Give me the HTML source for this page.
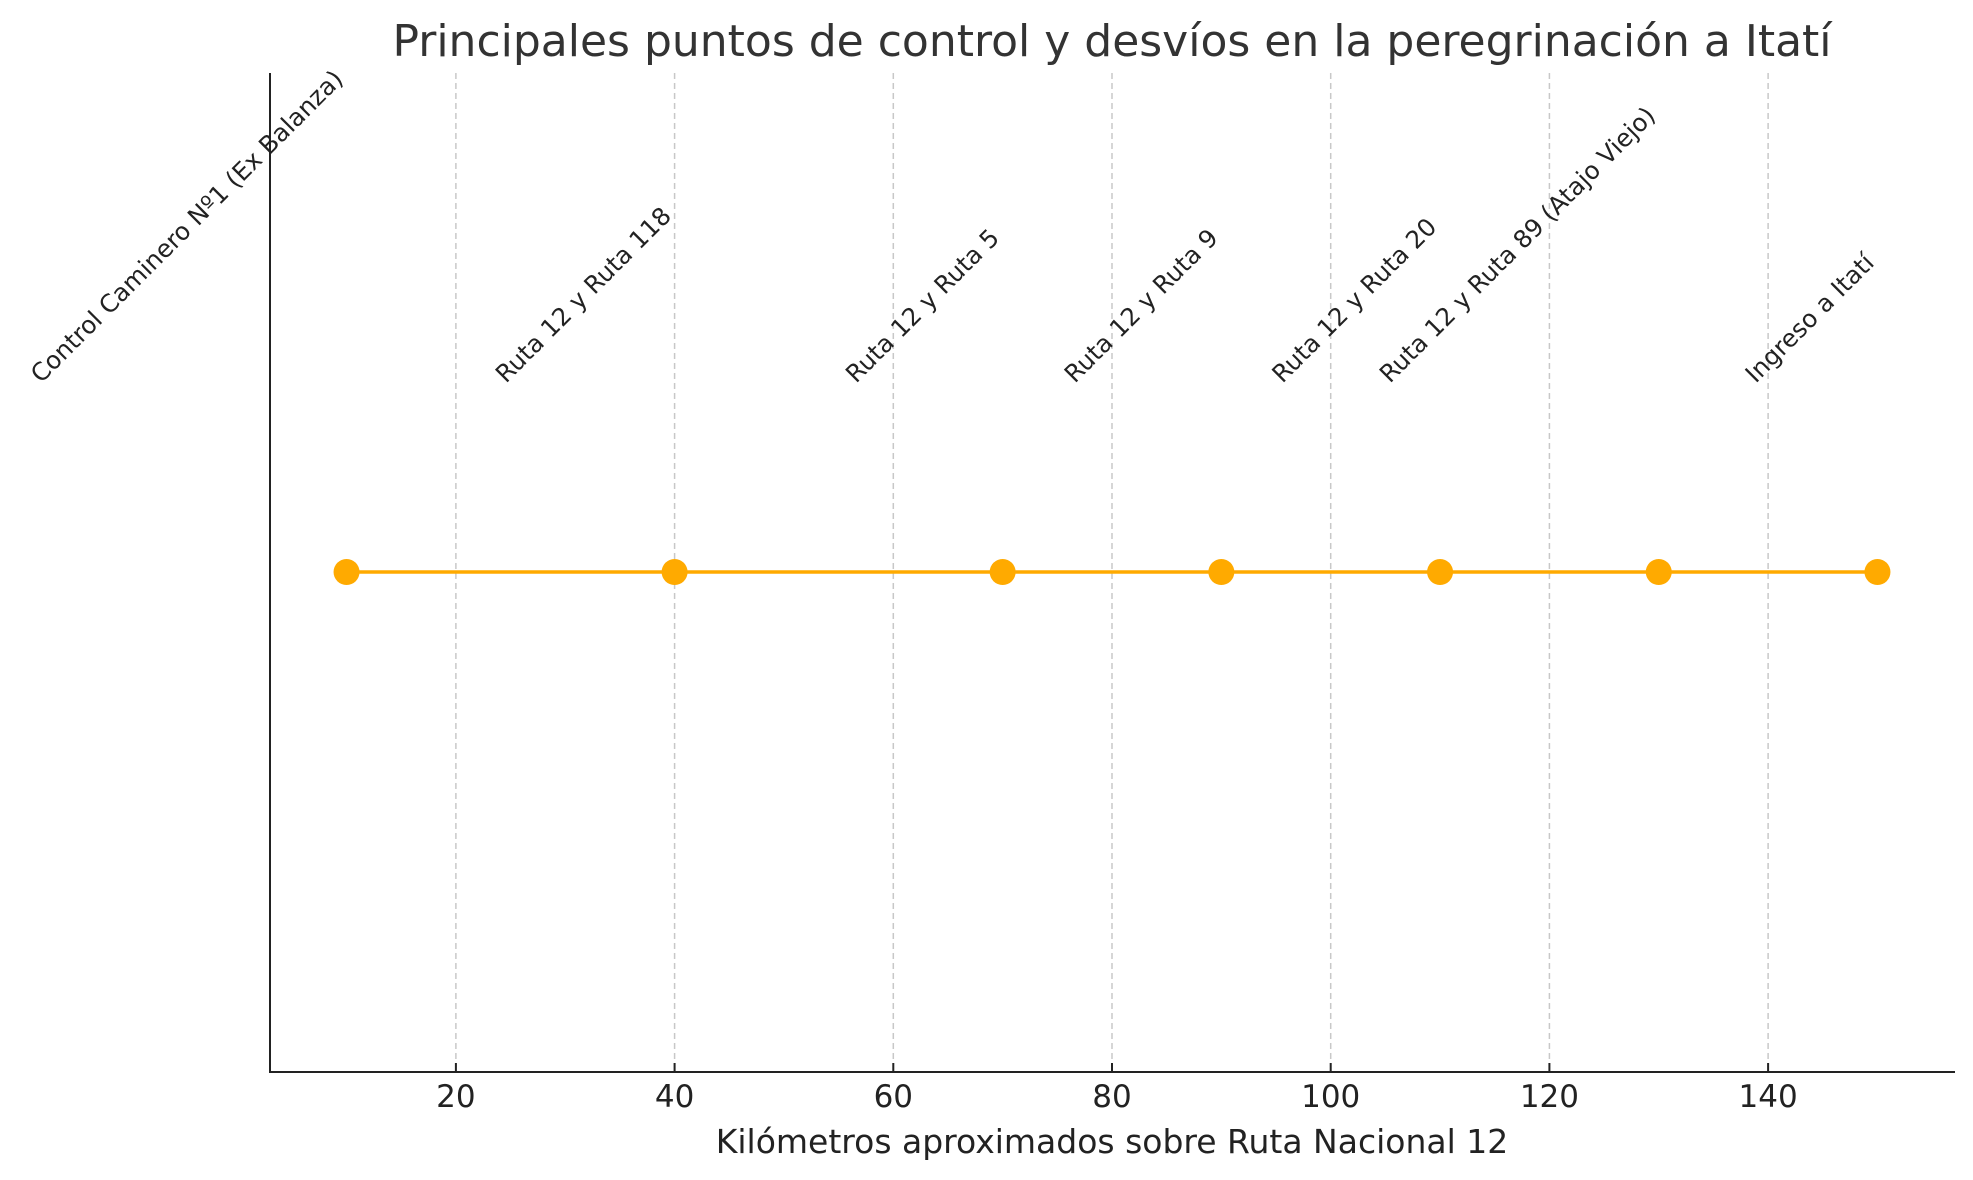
<!DOCTYPE html>
<html><head><meta charset="utf-8"><style>
html,body{margin:0;padding:0;background:#fff}
svg{display:block;font-family:"DejaVu Sans","Liberation Sans",sans-serif}
</style></head><body>
<svg id="chart" width="1973" height="1180" viewBox="0 0 1973 1180">
<rect width="1973" height="1180" fill="#fff"/>
<text x="1112" y="56" font-size="44" fill="#333" text-anchor="middle">Principales puntos de control y desvíos en la peregrinación a Itatí</text>
<g id="grid"></g>
<g id="series"></g>
<g id="labels"></g>
<line x1="270" y1="73" x2="270" y2="1073" stroke="#222" stroke-width="2"/>
<line x1="269" y1="1072" x2="1955" y2="1072" stroke="#222" stroke-width="2"/>
<g id="ticks"></g>
<text x="1112" y="1153" font-size="33" fill="#222" text-anchor="middle">Kilómetros aproximados sobre Ruta Nacional 12</text>
</svg>
<script>
const categories = ["Control Caminero Nº1 (Ex Balanza)","Ruta 12 y Ruta 118","Ruta 12 y Ruta 5","Ruta 12 y Ruta 9","Ruta 12 y Ruta 20","Ruta 12 y Ruta 89 (Atajo Viejo)","Ingreso a Itatí"];
const kmValues = [10,40,70,90,110,130,150];
const tickValues = [20,40,60,80,100,120,140];
const tickLabels = ["20","40","60","80","100","120","140"];
const NS="http://www.w3.org/2000/svg";
const xMin=3, xMax=157, pxL=270, pxR=1954;
function xScale(v){return pxL+(v-xMin)/(xMax-xMin)*(pxR-pxL);}
const yLine=572, plotTop=73, plotBot=1072;
function mk(tag,attrs,parent){const e=document.createElementNS(NS,tag);for(const k in attrs)e.setAttribute(k,attrs[k]);parent.appendChild(e);return e;}
const grid=document.getElementById('grid'), ticks=document.getElementById('ticks');
tickValues.forEach((v,i)=>{
  const x=xScale(v);
  const g=mk('line',{x1:x,y1:plotTop,x2:x,y2:plotBot,stroke:'#c8c8c8','stroke-width':1.5,'stroke-dasharray':'6,4'},grid);
  
  
  const t=mk('line',{x1:x,y1:plotBot,x2:x,y2:plotBot-9,stroke:'#222','stroke-width':2},ticks);
  
  
  const l=mk('text',{x:x,y:1107,'font-size':31,fill:'#222','text-anchor':'middle'},ticks);
  l.textContent=tickLabels[i];
  
  
});
const series=document.getElementById('series');
const pts=kmValues.map(v=>xScale(v)+','+yLine).join(' ');
const pl=mk('polyline',{points:pts,fill:'none',stroke:'#FFAA00','stroke-width':3.5},series);


kmValues.forEach(v=>{
  const c=mk('circle',{cx:xScale(v),cy:yLine,r:13,fill:'#FFAA00'},series);
  
  
});
const labels=document.getElementById('labels');
categories.forEach((name,i)=>{
  const t=mk('text',{'font-size':24.5,fill:'#222'},labels);
  t.textContent=name;
  
  
  const L=t.getComputedTextLength();
  const d=L/Math.SQRT2;
  const x0=xScale(kmValues[i])-d-2, y0=384;
  t.setAttribute('x',x0);t.setAttribute('y',y0);
  t.setAttribute('transform','rotate(-45 '+x0+' '+y0+')');
});
</script>
</body></html>
